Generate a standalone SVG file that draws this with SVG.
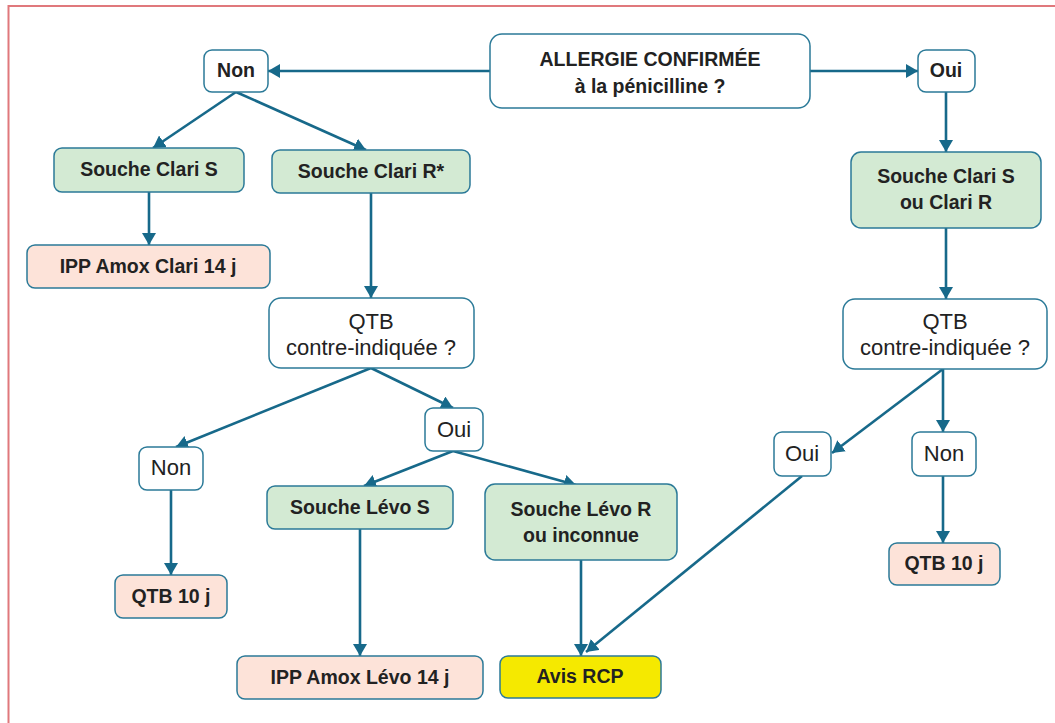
<svg xmlns="http://www.w3.org/2000/svg" width="1055" height="723" viewBox="0 0 1055 723">
<style>
.box{stroke:#2b7a98;stroke-width:1.5}
.w{fill:#ffffff}
.g{fill:#d3ead3}
.p{fill:#fde3d9}
.y{fill:#f5e900}
.b{font-family:"Liberation Sans",Arial,sans-serif;font-weight:bold;font-size:19.5px;fill:#222;text-anchor:middle}
.n{font-family:"Liberation Sans",Arial,sans-serif;font-size:22px;fill:#222;text-anchor:middle}
.c{stroke:#17698a;stroke-width:2.6;fill:none;marker-end:url(#ah)}
</style>
<defs>
<marker id="ah" markerUnits="userSpaceOnUse" viewBox="0 0 12 14" markerWidth="12" markerHeight="14" refX="12" refY="7" orient="auto">
<path d="M0,0 L12,7 L0,14 z" fill="#17698a"/>
</marker>
</defs>
<rect x="8.5" y="6" width="1070" height="740" fill="#ffffff" stroke="#e0787c" stroke-width="2"/>
<g id="connectors">
<line class="c" x1="490" y1="71" x2="268" y2="71"/>
<line class="c" x1="810" y1="71" x2="918" y2="71"/>
<line class="c" x1="236" y1="92" x2="153" y2="148"/>
<line class="c" x1="236" y1="92" x2="366" y2="150"/>
<line class="c" x1="149" y1="192" x2="149" y2="245"/>
<line class="c" x1="371" y1="193" x2="371" y2="298"/>
<line class="c" x1="371" y1="368" x2="176" y2="447"/>
<line class="c" x1="371" y1="368" x2="453" y2="408"/>
<line class="c" x1="453" y1="451" x2="364" y2="486"/>
<line class="c" x1="453" y1="451" x2="576" y2="485"/>
<line class="c" x1="171" y1="490" x2="171" y2="575"/>
<line class="c" x1="360" y1="529" x2="360" y2="656"/>
<line class="c" x1="581" y1="560" x2="581" y2="656"/>
<line class="c" x1="802" y1="476" x2="586" y2="652"/>
<line class="c" x1="946" y1="92" x2="946" y2="152"/>
<line class="c" x1="946" y1="228" x2="946" y2="299"/>
<line class="c" x1="943" y1="369" x2="943" y2="432"/>
<line class="c" x1="943" y1="369" x2="832" y2="453"/>
<line class="c" x1="943" y1="476" x2="943" y2="543"/>
</g>
<g id="allergie"><rect class="box w" x="490" y="34" width="320" height="74" rx="12"/><text class="b" x="650" y="66">ALLERGIE CONFIRMÉE</text><text class="b" x="650" y="93">à la pénicilline ?</text></g>
<g id="non1"><rect class="box w" x="204" y="50" width="64" height="42" rx="8"/><text class="b" x="236" y="77">Non</text></g>
<g id="oui1"><rect class="box w" x="918" y="50" width="57" height="42" rx="8"/><text class="b" x="946" y="77">Oui</text></g>
<g id="clariS"><rect class="box g" x="54" y="148" width="190" height="44" rx="8"/><text class="b" x="149" y="176">Souche Clari S</text></g>
<g id="clariR"><rect class="box g" x="272" y="150" width="198" height="43" rx="8"/><text class="b" x="371" y="178">Souche Clari R*</text></g>
<g id="ippClari"><rect class="box p" x="27" y="245" width="243" height="43" rx="8"/><text class="b" x="148" y="273">IPP Amox Clari 14 j</text></g>
<g id="qtb1"><rect class="box w" x="269" y="298" width="205" height="70" rx="12"/><text class="n" x="371" y="329">QTB</text><text class="n" x="371" y="355">contre-indiquée ?</text></g>
<g id="non2"><rect class="box w" x="139" y="447" width="64" height="43" rx="8"/><text class="n" x="171" y="475">Non</text></g>
<g id="oui2"><rect class="box w" x="425" y="408" width="58" height="43" rx="8"/><text class="n" x="454" y="437">Oui</text></g>
<g id="qtb10a"><rect class="box p" x="115" y="575" width="112" height="43" rx="8"/><text class="b" x="171" y="603">QTB 10 j</text></g>
<g id="levoS"><rect class="box g" x="267" y="486" width="186" height="43" rx="8"/><text class="b" x="360" y="514">Souche Lévo S</text></g>
<g id="ippLevo"><rect class="box p" x="237" y="656" width="246" height="43" rx="8"/><text class="b" x="360" y="684">IPP Amox Lévo 14 j</text></g>
<g id="levoR"><rect class="box g" x="485" y="484" width="192" height="76" rx="10"/><text class="b" x="581" y="516">Souche Lévo R</text><text class="b" x="581" y="542">ou inconnue</text></g>
<g id="rcp"><rect class="box y" x="500" y="656" width="161" height="42" rx="8"/><text class="b" x="580" y="683">Avis RCP</text></g>
<g id="clariSR"><rect class="box g" x="851" y="152" width="190" height="76" rx="10"/><text class="b" x="946" y="183">Souche Clari S</text><text class="b" x="946" y="209">ou Clari R</text></g>
<g id="qtb2"><rect class="box w" x="843" y="299" width="204" height="70" rx="12"/><text class="n" x="945" y="329">QTB</text><text class="n" x="945" y="355">contre-indiquée ?</text></g>
<g id="oui3"><rect class="box w" x="774" y="432" width="57" height="44" rx="8"/><text class="n" x="802" y="461">Oui</text></g>
<g id="non3"><rect class="box w" x="912" y="432" width="64" height="44" rx="8"/><text class="n" x="944" y="461">Non</text></g>
<g id="qtb10b"><rect class="box p" x="889" y="543" width="111" height="42" rx="8"/><text class="b" x="944" y="570">QTB 10 j</text></g>
</svg>
